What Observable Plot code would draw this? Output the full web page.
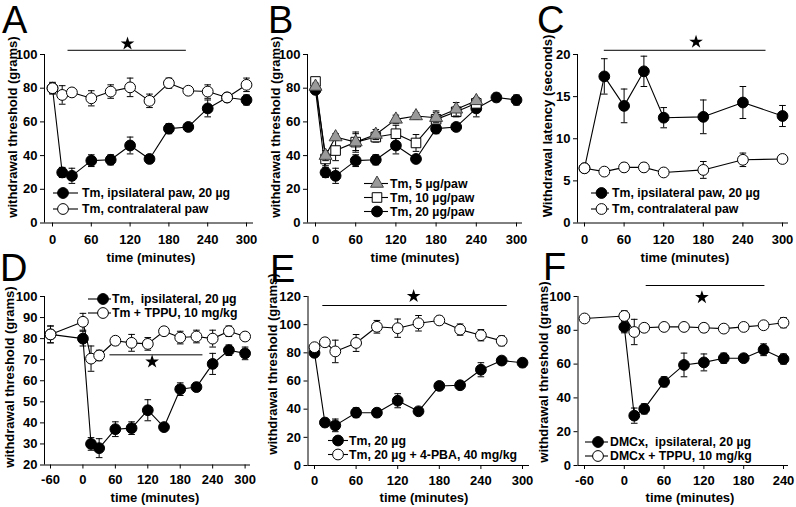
<!DOCTYPE html>
<html><head><meta charset="utf-8">
<script src="https://cdn.jsdelivr.net/npm/d3@7"></script>
<script src="https://cdn.jsdelivr.net/npm/@observablehq/plot@0.6"></script>
<style>
html,body{margin:0;padding:0;background:#fff;}
#fig{position:relative;width:796px;height:507px;overflow:hidden;background:#fff;font-family:"Liberation Sans",Arial,sans-serif;}
.panel{position:absolute;}
#overlay{position:absolute;left:0;top:0;pointer-events:none;}
</style></head><body><div id="fig"></div>
<script>
// ---------------- DATA ----------------
const xTitle = "time (minutes)";
const yTitleThreshold = "withdrawal threshold (grams)";
const yTitleLatency = "Withdrawal latency (seconds)";

// Panel A
const timesA = [0,15,30,60,90,120,150,180,210,240,270,300];
const tmIpsiMean = [80,30,28,37,37.5,46,38,56,57,68,74.5,73];
const tmIpsiErr  = [3,3,4.5,3.5,3,5,1.5,3,2,5,2.5,3];
const contraMean = [80,76,77.5,74,78,80.5,72.5,83,78.5,78,74.5,82];
const contraErr  = [3.5,5.5,2,4.5,4,5.5,4,3,2,4,2.5,4];
const legendA = ["Tm, ipsilateral paw, 20 µg", "Tm, contralateral paw"];
const sigA = [{x1:24, x2:207, y:102.5}];
const starA = [{x:116, y:106.4}];

// Panel B
const timesB = [0,15,30,60,90,120,150,180,210,240];
const dose5Mean  = [81,40,51,48,52.5,61.5,63.5,62.5,67.5,72.5];
const dose5Err   = [2,3,2,5,3,2.5,2,3,4,2];
const dose10Mean = [84,38,43,48,51,53,47.5,61.5,66,71];
const dose10Err  = [2,4,6,6,3,5,5,5,3,3];
const dose20Mean = [79,30,28,37,37.5,46,38,56,57,68,74.5,73];
const dose20Err  = [2,3,4.5,3.5,3,5,1.5,3,2,5,2.5,3];
const legendB = ["Tm, 5 µg/paw", "Tm, 10 µg/paw", "Tm, 20 µg/paw"];

// Panel C
const timesC = [0,30,60,90,120,180,240,300];
const latIpsiMean   = [6.5,17.4,13.9,18,12.5,12.6,14.3,12.7];
const latIpsiErr    = [0.3,2.1,2,1.8,1.2,2,1.9,1.25];
const latContraMean = [6.5,6.1,6.6,6.6,6.0,6.3,7.5,7.6];
const latContraErr  = [0.3,0.2,0.5,0.5,0.2,1,0.8,0.3];
const legendC = ["Tm, ipsilateral paw, 20 µg", "Tm, contralateral paw"];
const sigC = [{x1:30, x2:275, y:20.5}];
const starC = [{x:169, y:21.5}];

// Panel D
const timesD = [-60,0,15,30,60,90,120,150,180,210,240,270,300];
const dIpsiMean = [82,80,30,28,37,37.5,46,38,56,57,68,74.5,73];
const dIpsiErr  = [4,3.5,3,4.5,3.5,3,5,1.5,3,2,5,2.5,3];
const dTppuMean = [82,88,70.5,72,79,78,77.5,83.5,80.5,81,80,83.5,81];
const dTppuErr  = [4,4,6,2.5,2,4,3,1.5,3,3,4,2.5,1.5];
const legendD = ["Tm,  ipsilateral, 20 µg", "Tm + TPPU, 10 mg/kg"];
const sigD = [{x1:50, x2:222, y:72.3}];
const starD = [{x:128, y:69}];

// Panel E
const timesE = [0,15,30,60,90,120,150,180,210,240,270,300];
const eIpsiMean = [80,30.5,28.5,37.5,37.5,46,38.5,56.5,57,68,74.5,73];
const eIpsiErr  = [2,3,4.5,3.5,3,5,1.5,2,1.5,5,2.5,3];
const timesPBA = [0,15,30,60,90,120,150,180,210,240,270];
const pbaMean = [84,87.5,81,87,98.5,97.5,101,103,96.5,92.5,88.5];
const pbaErr  = [2,2,8,6,4.5,6.5,5.5,3,4,4,3.5];
const legendE = ["Tm, 20 µg", "Tm, 20 µg + 4-PBA, 40 mg/kg"];
const sigE = [{x1:12, x2:278, y:113.6}];
const starE = [{x:143, y:120.2}];

// Panel F
const timesFIpsi = [0,15,30,60,90,120,150,180,210,240];
const dmcxMean = [82,29.5,33.5,49.5,59.5,61,63.5,63.5,68.5,63];
const dmcxErr  = [3.5,4.5,3,3,7,5,3,2,3.5,3];
const timesFTppu = [-60,0,15,30,60,90,120,150,180,210,240];
const dmcxTppuMean = [87,88.5,79,81.5,82,82,81.5,81,82,83,84.5];
const dmcxTppuErr  = [1.5,3,7.5,2,1.5,1.5,2.5,1.5,1.5,1.5,3];
const legendF = ["DMCx,  ipsilateral, 20 µg", "DMCx + TPPU, 10 mg/kg"];
const sigF = [{x1:33, x2:212, y:106.5}];
const starF = [{x:117, y:99.5}];

const ticks0to300 = [0,60,120,180,240,300];
const ticksM60to300 = [-60,0,60,120,180,240,300];
const ticksM60to240 = [-60,0,60,120,180,240];

// ---------------- HELPERS ----------------
function rows(t, m, e) { return t.map((x, i) => ({t: x, v: m[i], e: e[i]})); }
const cap = {draw(ctx, size) { const w = Math.sqrt(size / Math.PI); ctx.moveTo(-w, 0); ctx.lineTo(w, 0); }};
const STY = {
  filled:   {symbol: "circle",   fill: "black",   stroke: "black", r: 5.4},
  open:     {symbol: "circle",   fill: "white",   stroke: "black", r: 5.4},
  square:   {symbol: "square",   fill: "white",   stroke: "black", r: 5.4},
  triangle: {symbol: "triangle", fill: "#9a9a9a", stroke: "#404040", r: 4.8}
};
const FONT = "'Liberation Sans', Arial, Helvetica, sans-serif";
const LEG_FS = 12.3;

const panels = [
  {letter: "A", lx: 2, ly: 33, left: 0, top: 0, width: 265, height: 250,
   xCal: [0, 52, 300, 246], axisL: 44, axisR: 253, yDom: [0, 100], yBottom: 222.5, yTop: 54,
   xTicks: ticks0to300, yTicks: [0,20,40,60,80,100], xPad: 8,
   series: [{d: rows(timesA, tmIpsiMean, tmIpsiErr), s: "filled"}, {d: rows(timesA, contraMean, contraErr), s: "open"}],
   sig: sigA, star: starA, yTitle: yTitleThreshold, yTx: 12.5, yTy: 127, xTx: 151, xTy: 257,
   legend: {labels: legendA, styles: ["filled", "open"], x0: 53, x1: 78, mx: 63, tx: 82, ys: [193, 209]}},
  {letter: "B", lx: 268, ly: 33, left: 265, top: 0, width: 265, height: 250,
   xCal: [0, 315, 300, 516], axisL: 307, axisR: 522, yDom: [0, 100], yBottom: 222.5, yTop: 54,
   xTicks: ticks0to300, yTicks: [0,20,40,60,80,100], xPad: 8,
   series: [{d: rows(timesA, dose20Mean, dose20Err), s: "filled"}, {d: rows(timesB, dose10Mean, dose10Err), s: "square"}, {d: rows(timesB, dose5Mean, dose5Err), s: "triangle"}],
   sig: [], star: [], yTitle: yTitleThreshold, yTx: 275, yTy: 127, xTx: 415, xTy: 257,
   legend: {labels: legendB, styles: ["triangle", "square", "filled"], x0: 364, x1: 388, mx: 377, tx: 390, ys: [183.5, 197.5, 211.5]}},
  {letter: "C", lx: 537, ly: 33, left: 530, top: 0, width: 266, height: 250,
   xCal: [0, 584, 300, 782], axisL: 577, axisR: 788, yDom: [0, 20], yBottom: 222.5, yTop: 54,
   xTicks: ticks0to300, yTicks: [0,5,10,15,20], xPad: 8,
   series: [{d: rows(timesC, latIpsiMean, latIpsiErr), s: "filled"}, {d: rows(timesC, latContraMean, latContraErr), s: "open"}],
   sig: sigC, star: starC, yTitle: yTitleLatency, yTx: 547, yTy: 126, xTx: 685, xTy: 257,
   legend: {labels: legendC, styles: ["filled", "open"], x0: 591, x1: 609, mx: 601.5, tx: 612, ys: [193, 209]}},
  {letter: "D", lx: 0, ly: 281, left: 0, top: 250, width: 265, height: 257,
   xCal: [-60, 50, 300, 244.6], axisL: 44, axisR: 250, yDom: [20, 100], yBottom: 464.5, yTop: 296,
   xTicks: ticksM60to300, yTicks: [20,30,40,50,60,70,80,90,100], xPad: 6,
   series: [{d: rows(timesD, dIpsiMean, dIpsiErr), s: "filled"}, {d: rows(timesD, dTppuMean, dTppuErr), s: "open"}],
   sig: sigD, star: starD, yTitle: yTitleThreshold, yTx: 9, yTy: 377, xTx: 155, xTy: 497,
   legend: {labels: legendD, styles: ["filled", "open"], x0: 88, x1: 111, mx: 103, tx: 112, ys: [299, 313]}},
  {letter: "E", lx: 270, ly: 282, left: 265, top: 250, width: 265, height: 257,
   xCal: [0, 314, 300, 522], axisL: 307.5, axisR: 529, yDom: [0, 120], yBottom: 465, yTop: 296,
   xTicks: ticks0to300, yTicks: [0,20,40,60,80,100,120], xPad: 6,
   series: [{d: rows(timesE, eIpsiMean, eIpsiErr), s: "filled"}, {d: rows(timesPBA, pbaMean, pbaErr), s: "open"}],
   sig: sigE, star: starE, yTitle: yTitleThreshold, yTx: 272, yTy: 364, xTx: 424, xTy: 497,
   legend: {labels: legendE, styles: ["filled", "open"], x0: 328, x1: 348, mx: 338, tx: 349, ys: [440.5, 454.5]}},
  {letter: "F", lx: 543, ly: 280, left: 530, top: 250, width: 266, height: 257,
   xCal: [-60, 584, 240, 783], axisL: 577.5, axisR: 788, yDom: [0, 100], yBottom: 465, yTop: 296,
   xTicks: ticksM60to240, yTicks: [0,20,40,60,80,100], xPad: 6,
   series: [{d: rows(timesFIpsi, dmcxMean, dmcxErr), s: "filled"}, {d: rows(timesFTppu, dmcxTppuMean, dmcxTppuErr), s: "open"}],
   sig: sigF, star: starF, yTitle: yTitleThreshold, yTx: 543, yTy: 372, xTx: 690, xTy: 497,
   legend: {labels: legendF, styles: ["filled", "open"], x0: 585, x1: 608, mx: 598, tx: 610, ys: [442, 456]}}
];

const fig = document.getElementById("fig");

for (const p of panels) {
  const kx = (p.xCal[3] - p.xCal[1]) / (p.xCal[2] - p.xCal[0]);
  const xd0 = p.xCal[0] + (p.axisL - p.xCal[1]) / kx;
  const xd1 = p.xCal[0] + (p.axisR - p.xCal[1]) / kx;
  const marks = [
    Plot.ruleX([xd0], {stroke: "black", strokeWidth: 1}),
    Plot.ruleY([p.yDom[0]], {stroke: "black", strokeWidth: 1}),
    Plot.ruleY(p.sig, {y: "y", x1: "x1", x2: "x2", stroke: "black", strokeWidth: 1}),
    Plot.dot(p.star, {x: "x", y: "y", symbol: "star", r: 4.3, fill: "black", stroke: "none"})
  ];
  for (const s of p.series) {
    const st = STY[s.s];
    marks.push(
      Plot.line(s.d, {x: "t", y: "v", stroke: "black", strokeWidth: 1.1}),
      Plot.ruleX(s.d, {x: "t", y1: d => d.v - d.e, y2: d => d.v + d.e, stroke: "black", strokeWidth: 1}),
      Plot.dot(s.d, {x: "t", y: d => d.v + d.e, symbol: cap, r: 3.3, fill: "none", stroke: "black", strokeWidth: 1}),
      Plot.dot(s.d, {x: "t", y: d => d.v - d.e, symbol: cap, r: 3.3, fill: "none", stroke: "black", strokeWidth: 1}),
      Plot.dot(s.d, {x: "t", y: "v", symbol: st.symbol, r: st.r, fill: st.fill, stroke: st.stroke, strokeWidth: 1})
    );
  }
  const svg = Plot.plot({
    width: p.width, height: p.height,
    marginLeft: p.axisL - p.left,
    marginRight: p.left + p.width - p.axisR,
    marginTop: p.yTop - p.top,
    marginBottom: p.top + p.height - p.yBottom,
    style: {fontFamily: FONT, fontSize: "13px", fontWeight: "bold", background: "transparent", overflow: "visible", color: "black"},
    x: {domain: [xd0, xd1], ticks: p.xTicks, tickSize: 4, tickPadding: p.xPad, label: null, tickFormat: d => String(d)},
    y: {domain: p.yDom, ticks: p.yTicks, tickSize: 4, tickPadding: 3, label: null, tickFormat: d => String(d)},
    marks
  });
  svg.classList.add("panel");
  svg.style.left = p.left + "px";
  svg.style.top = p.top + "px";
  fig.appendChild(svg);
}

// Overlay: panel letters, axis titles, legends
const ov = d3.select(fig).append("svg").attr("id", "overlay").attr("width", 796).attr("height", 507)
  .style("font-family", FONT);
for (const p of panels) {
  ov.append("text").attr("x", p.lx).attr("y", p.ly).attr("font-size", 38).text(p.letter);
  ov.append("text").attr("x", p.xTx).attr("y", p.xTy).attr("font-size", 13).attr("font-weight", "bold")
    .attr("text-anchor", "middle").attr("dominant-baseline", "central").text(xTitle);
  ov.append("text").attr("transform", `translate(${p.yTx},${p.yTy}) rotate(-90)`).attr("font-size", 13)
    .attr("font-weight", "bold").attr("text-anchor", "middle").attr("dominant-baseline", "central").text(p.yTitle);
  const L = p.legend;
  L.labels.forEach((lab, i) => {
    const y = L.ys[i];
    const st = STY[L.styles[i]];
    const g = ov.append("g");
    g.append("line").attr("x1", L.x0).attr("x2", L.x1).attr("y1", y).attr("y2", y).attr("stroke", "black").attr("stroke-width", 1.1);
    g.append("path").attr("transform", `translate(${L.mx},${y})`)
      .attr("d", d3.symbol(st.symbol === "circle" ? d3.symbolCircle : st.symbol === "square" ? d3.symbolSquare : d3.symbolTriangle, st.r * st.r * Math.PI)())
      .attr("fill", st.fill).attr("stroke", st.stroke).attr("stroke-width", 1);
    g.append("text").attr("x", L.tx).attr("y", y).attr("font-size", LEG_FS).attr("font-weight", "bold")
      .attr("dominant-baseline", "central").style("white-space", "pre").text(lab);
  });
}
</script></body></html>
